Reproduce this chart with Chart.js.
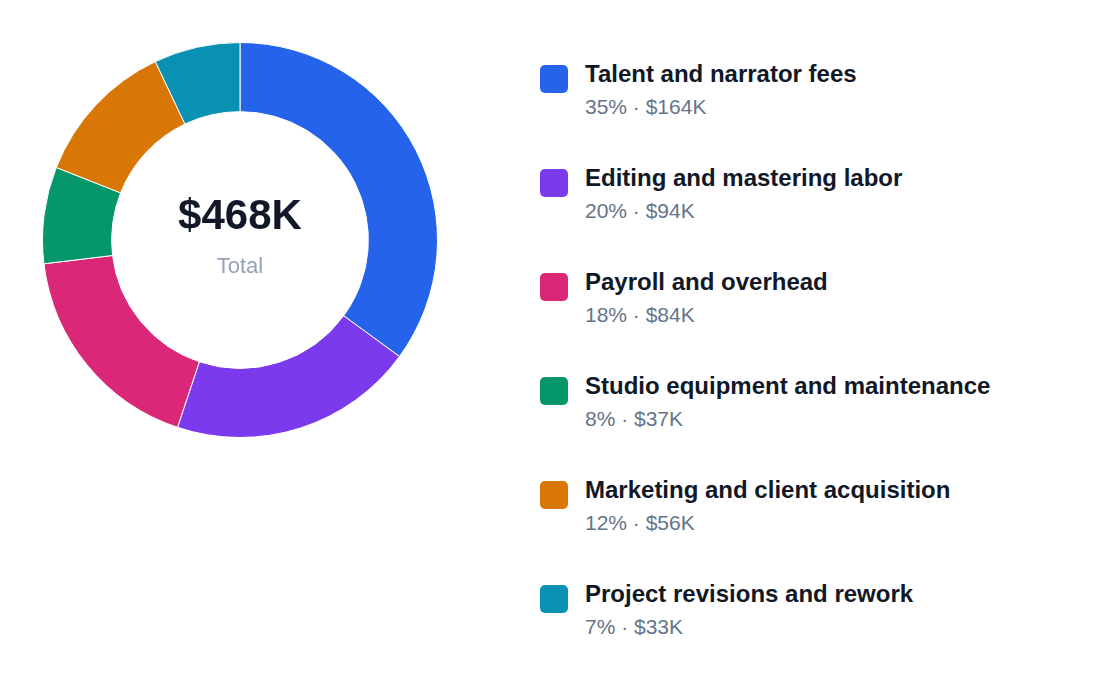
<!DOCTYPE html>
<html><head><meta charset="utf-8">
<script src="https://cdn.jsdelivr.net/npm/chart.js@4"></script>
<style>
body{margin:0;background:#fff;font-family:"Liberation Sans",Arial,sans-serif;width:1120px;height:696px;position:relative;overflow:hidden}
#wrap{position:absolute;left:40px;top:40px;width:400px;height:400px}
#center{position:absolute;left:40px;top:40px;width:400px;height:400px;display:flex;flex-direction:column;align-items:center;justify-content:center;pointer-events:none}
#center .v{font-size:42px;font-weight:bold;color:#111827;margin-top:-10px}
#center .t{font-size:22px;color:#94a3b8;margin-top:14px}
#legend{position:absolute;left:540px;top:60px}
.item{position:relative;height:104px}
.sw{position:absolute;left:0;top:5px;width:28px;height:28px;border-radius:5px}
.name{position:absolute;left:45px;top:0;font-size:24px;font-weight:bold;color:#111827;white-space:nowrap}
.sub{position:absolute;left:45px;top:35px;font-size:21px;color:#64748b;white-space:nowrap}
</style></head><body>
<div id="wrap"><canvas id="c"></canvas></div>
<div id="center"><div class="v">$468K</div><div class="t">Total</div></div>
<div id="legend"></div>
<script>
const categories=["Talent and narrator fees","Editing and mastering labor","Payroll and overhead","Studio equipment and maintenance","Marketing and client acquisition","Project revisions and rework"];
const values=[164,94,84,37,56,33];
const percents=[35,20,18,8,12,7];
const colors=["#2563eb","#7c3aed","#db2777","#059669","#d97706","#0891b2"];
const lg=document.getElementById('legend');
categories.forEach((c,i)=>{
  const d=document.createElement('div');d.className='item';
  d.innerHTML=`<div class="sw" style="background:${colors[i]}"></div><div class="name">${c}</div><div class="sub">${percents[i]}% · $${values[i]}K</div>`;
  lg.appendChild(d);
});
new Chart(document.getElementById('c'),{type:'doughnut',
data:{labels:categories,datasets:[{data:values,backgroundColor:colors,borderColor:'#fff',borderWidth:1}]},
options:{responsive:true,maintainAspectRatio:false,animation:false,cutout:'65%',layout:{padding:2},
plugins:{legend:{display:false},tooltip:{enabled:false}}}});
</script></body></html>
